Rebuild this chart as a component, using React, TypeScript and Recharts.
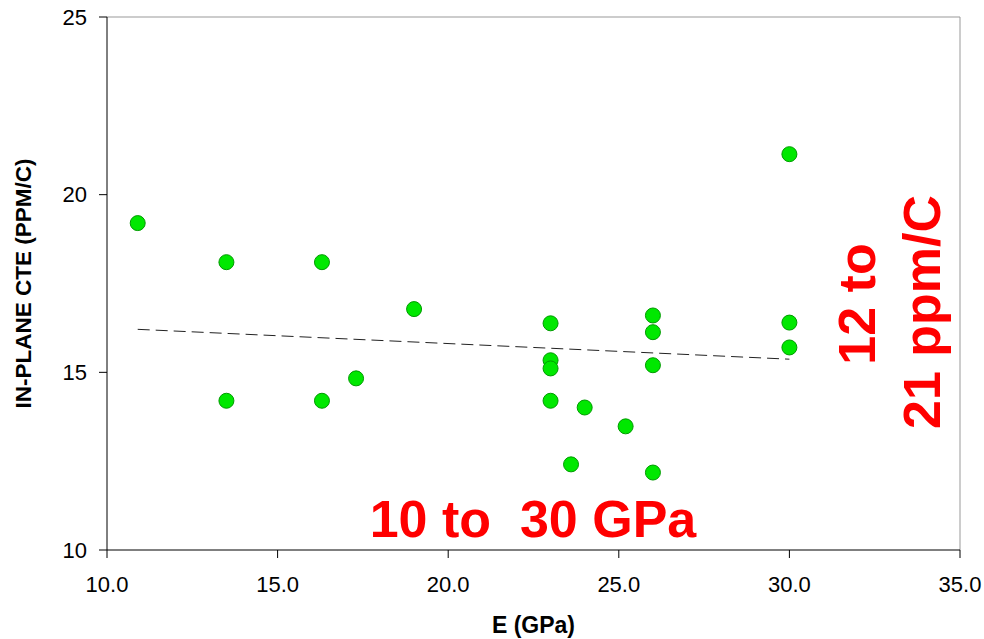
import React from "react"
import {
  ScatterChart,
  Scatter,
  XAxis,
  YAxis,
  ReferenceLine,
  Label,
} from "recharts"

// modulus (GPa) vs in-plane CTE (ppm/C)
const modulus = [
  10.9, 13.5, 13.5, 16.3, 16.3, 17.3, 19.0, 23.0, 23.0, 23.0, 23.0, 23.6, 24.0,
  25.2, 26.0, 26.0, 26.0, 26.0, 30.0, 30.0, 30.0,
]
const cte = [
  19.2, 18.1, 14.2, 18.1, 14.2, 14.83, 16.78, 16.38, 15.34, 15.11, 14.2, 12.41,
  14.01, 13.48, 16.6, 16.13, 15.2, 12.18, 21.14, 16.4, 15.7,
]

// linear fit endpoints
const fitX = [10.9, 30.0]
const fitY = [16.21, 15.37]

const xTicks = [10, 15, 20, 25, 30, 35]
const yTicks = [10, 15, 20, 25]

const points = modulus.map((x, i) => ({ x, y: cte[i] }))
const fit = fitX.map((x, i) => ({ x, y: fitY[i] }))

const font = "'Liberation Sans', Arial, sans-serif"

const Dot = (props: any) => {
  const { cx, cy } = props
  if (cx == null || cy == null) return null
  return <circle cx={cx} cy={cy} r={7.5} fill="#00e800" stroke="#009a00" strokeWidth={1} />
}

export default function App() {
  return (
    <div style={{ position: "absolute", left: 0, top: 0, width: 984, height: 639, background: "#fff", overflow: "hidden" }}>
      <ScatterChart
        width={984}
        height={639}
        margin={{ top: 17, right: 24, bottom: 0, left: 0 }}
        style={{ overflow: "visible" }}
      >
        <XAxis
          type="number"
          dataKey="x"
          domain={[10, 35]}
          ticks={xTicks}
          tickFormatter={(v: number) => v.toFixed(1)}
          height={89}
          tickSize={8}
          tickMargin={18}
          stroke="#000"
          tick={{ fill: "#000", fontSize: 22, fontFamily: font }}
          allowDataOverflow
        >
          <Label
            value="E (GPa)"
            position="insideBottom"
            offset={6}
            style={{ fontSize: 23, fontWeight: "bold", fontFamily: font, fill: "#000" }}
          />
        </XAxis>
        <YAxis
          type="number"
          dataKey="y"
          domain={[10, 25]}
          ticks={yTicks}
          width={107}
          tickSize={8}
          tickMargin={12}
          stroke="#000"
          tick={{ fill: "#000", fontSize: 22, fontFamily: font }}
          allowDataOverflow
        >
          <Label
            value="IN-PLANE CTE (PPM/C)"
            angle={-90}
            position="center"
            dx={-30}
            style={{ fontSize: 22.5, fontWeight: "bold", fontFamily: font, fill: "#000", textAnchor: "middle" }}
          />
        </YAxis>
        <ReferenceLine y={25} stroke="#999" strokeWidth={1} />
        <ReferenceLine x={35} stroke="#999" strokeWidth={1} />
        <Scatter
          data={fit}
          line={{ stroke: "#222", strokeWidth: 1, strokeDasharray: "12 6" }}
          shape={() => <g />}
          isAnimationActive={false}
        />
        <Scatter data={points} shape={Dot} isAnimationActive={false} />
      </ScatterChart>
      <svg width={984} height={639} style={{ position: "absolute", left: 0, top: 0, pointerEvents: "none" }}>
        <g fill="#ff0000" fontFamily={font} fontWeight="bold" fontSize={52}>
          <text x={533} y={537} textAnchor="middle" xmlSpace="preserve">
            10 to  30 GPa
          </text>
          <text x={875} y={304} textAnchor="middle" transform="rotate(-90 875 304)">
            12 to
          </text>
          <text x={940} y={312} textAnchor="middle" transform="rotate(-90 940 312)">
            21 ppm/C
          </text>
        </g>
      </svg>
    </div>
  )
}
